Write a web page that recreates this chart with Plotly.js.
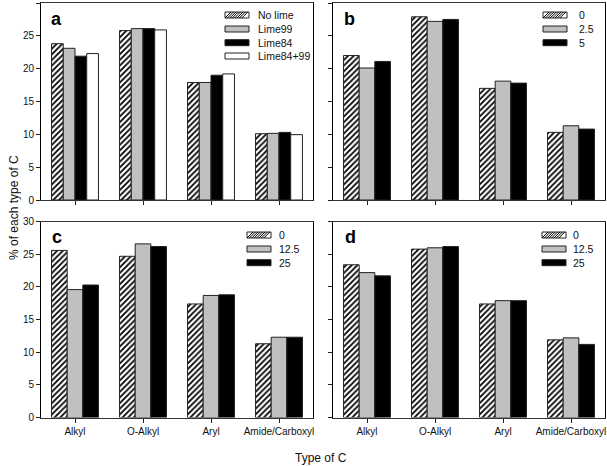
<!DOCTYPE html>
<html><head><meta charset="utf-8">
<script src="https://cdn.plot.ly/plotly-3.0.1.min.js"></script>
<style>html,body{margin:0;padding:0;background:#fff}#chart{width:607px;height:466px}</style>
</head><body><div id="chart"></div>
<script>
// ---- data ----
const categories = ['Alkyl', 'O-Alkyl', 'Aryl', 'Amide/Carboxyl'];
const yTicks = [0, 5, 10, 15, 20, 25, 30];

const namesA = ['No lime', 'Lime99', 'Lime84', 'Lime84+99'];
const aNoLime  = [23.8, 25.8, 17.9, 10.1];
const aLime99  = [23.1, 26.1, 17.9, 10.15];
const aLime84  = [21.9, 26.1, 19.0, 10.3];
const aLime8499 = [22.3, 25.9, 19.2, 9.95];

const namesB = ['0', '2.5', '5'];
const b0  = [22.0, 27.9, 17.0, 10.3];
const b25 = [20.1, 27.2, 18.1, 11.3];
const b5  = [21.1, 27.5, 17.8, 10.8];

const namesC = ['0', '12.5', '25'];
const c0   = [25.6, 24.7, 17.4, 11.3];
const c125 = [19.6, 26.6, 18.7, 12.3];
const c25  = [20.3, 26.2, 18.8, 12.3];

const namesD = ['0', '12.5', '25'];
const d0   = [23.4, 25.8, 17.4, 11.9];
const d125 = [22.2, 26.0, 17.9, 12.2];
const d25  = [21.7, 26.2, 17.9, 11.2];

const panelLetters = ['a', 'b', 'c', 'd'];

// ---- styling ----
const W = 607, H = 466;
const FONT = 'Liberation Sans, Arial, sans-serif';
const px = v => v / W;
const py = v => 1 - v / H;
const LINE = '#222';

const styles = [
  {color: '#ffffff', pattern: {shape: '/', fgcolor: '#000', bgcolor: '#fff', size: 4, solidity: 0.45}},
  {color: '#c0c0c0'},
  {color: '#000000'},
  {color: '#ffffff'}
];

function barTrace(vals, name, idx, xa, ya) {
  const st = styles[idx];
  const m = {color: st.color, line: {color: LINE, width: 1}};
  if (st.pattern) m.pattern = st.pattern;
  return {type: 'bar', x: categories, y: vals, name: name, xaxis: xa, yaxis: ya,
          marker: m, showlegend: false, hoverinfo: 'skip'};
}

const panels = [
  {series: [aNoLime, aLime99, aLime84, aLime8499], names: namesA, xa: 'x', ya: 'y',
   legX: 225, legTextX: 256, legY: [15, 29, 42.7, 56], letter: [56, 19]},
  {series: [b0, b25, b5], names: namesB, xa: 'x2', ya: 'y2',
   legX: 543, legTextX: 577, legY: [15, 29, 42.7], letter: [349, 19]},
  {series: [c0, c125, c25], names: namesC, xa: 'x3', ya: 'y3',
   legX: 247, legTextX: 277, legY: [235, 249, 262.7], letter: [57, 237]},
  {series: [d0, d125, d25], names: namesD, xa: 'x4', ya: 'y4',
   legX: 542, legTextX: 571, legY: [235, 249, 262.7], letter: [350, 237]}
];

const traces = [];
const shapes = [];
const annotations = [];
const SW = 24, SH = 6;

panels.forEach((p, pi) => {
  p.series.forEach((s, i) => traces.push(barTrace(s, p.names[i], i, p.xa, p.ya)));
  p.names.forEach((n, i) => {
    const yc = p.legY[i];
    const x0 = p.legX, x1 = p.legX + SW, yt = yc - SH / 2, yb = yc + SH / 2;
    shapes.push({type: 'rect', xref: 'paper', yref: 'paper',
      x0: px(x0), x1: px(x1), y0: py(yb), y1: py(yt),
      fillcolor: styles[i].color, line: {color: LINE, width: 1}});
    if (styles[i].pattern) {
      let path = '';
      for (let x = x0; x + SH <= x1 + 0.01; x += 2.4) {
        path += `M${px(x)},${py(yb)}L${px(x + SH)},${py(yt)}`;
      }
      shapes.push({type: 'path', xref: 'paper', yref: 'paper', path: path,
        line: {color: '#000', width: 1}});
    }
    annotations.push({xref: 'paper', yref: 'paper', x: px(p.legTextX), y: py(yc),
      xanchor: 'left', yanchor: 'middle', showarrow: false, text: n,
      font: {family: FONT, size: 10.5, color: '#111'}});
  });
  annotations.push({xref: 'paper', yref: 'paper', x: px(p.letter[0]), y: py(p.letter[1]),
    xanchor: 'center', yanchor: 'middle', showarrow: false, text: '<b>' + panelLetters[pi] + '</b>',
    font: {family: FONT, size: 18, color: '#000'}});
});

annotations.push({xref: 'paper', yref: 'paper', x: px(14), y: py(208), textangle: -90,
  xanchor: 'center', yanchor: 'middle', showarrow: false, text: '% of each type of C',
  font: {family: FONT, size: 12, color: '#111'}});
annotations.push({xref: 'paper', yref: 'paper', x: px(321), y: py(458),
  xanchor: 'center', yanchor: 'middle', showarrow: false, text: 'Type of C',
  font: {family: FONT, size: 12, color: '#111'}});

const leftDom = [px(41), px(313)];
const rightDom = [px(333), px(605)];
const topDom = [py(200), py(3)];
const botDom = [py(417.5), py(221.7)];

function xax(dom, anchor, labels) {
  return {domain: dom, anchor: anchor, type: 'category', categoryorder: 'array', categoryarray: categories,
    showline: true, linecolor: '#333', linewidth: 1, mirror: true,
    ticks: 'outside', ticklen: 4, tickcolor: LINE, showgrid: false, zeroline: false,
    showticklabels: labels, tickfont: {family: FONT, size: 10, color: '#111'}, fixedrange: true};
}
function yax(dom, anchor, labels) {
  return {domain: dom, anchor: anchor, range: [0, 30], tickvals: yTicks,
    showline: true, linecolor: '#000', linewidth: 1, mirror: true,
    ticks: 'outside', ticklen: 4, tickcolor: LINE, showgrid: false, zeroline: false,
    showticklabels: labels, tickfont: {family: FONT, size: 10, color: '#111'}, fixedrange: true};
}

const layout = {
  width: W, height: H, margin: {l: 0, r: 0, t: 0, b: 0},
  paper_bgcolor: '#fff', plot_bgcolor: '#fff',
  barmode: 'group', bargap: 0.31, bargroupgap: 0,
  showlegend: false,
  font: {family: FONT, size: 11, color: '#111'},
  xaxis: xax(leftDom, 'y', false),
  yaxis: yax(topDom, 'x', true),
  xaxis2: xax(rightDom, 'y2', false),
  yaxis2: yax(topDom, 'x2', false),
  xaxis3: xax(leftDom, 'y3', true),
  yaxis3: yax(botDom, 'x3', true),
  xaxis4: xax(rightDom, 'y4', true),
  yaxis4: yax(botDom, 'x4', false),
  shapes: shapes,
  annotations: annotations
};

Plotly.newPlot('chart', traces, layout, {staticPlot: true, displayModeBar: false});
</script>
</body></html>
